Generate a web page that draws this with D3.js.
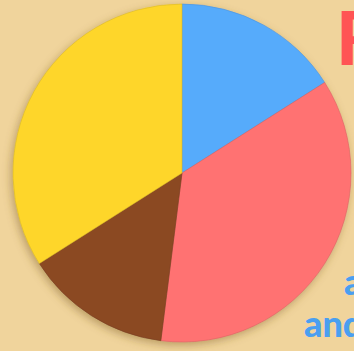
<!DOCTYPE html>
<html>
<head>
<meta charset="utf-8">
<script src="https://cdn.jsdelivr.net/npm/d3@7"></script>
<style>
  html, body { margin: 0; padding: 0; background: #F0D49C; overflow: hidden; }
  svg { display: block; }
</style>
</head>
<body>
<svg id="chart" width="354" height="351"></svg>
<script>
const categories = ["Blue", "Red", "Brown", "Yellow"];
const values = [16, 36, 14, 34];
const colors = ["#56ABFB", "#FF7272", "#8B4824", "#FED62B"];

const width = 354, height = 351;
const cx = 182, cy = 173, radius = 169;

const svg = d3.select("#chart");
svg.append("rect").attr("width", width).attr("height", height).attr("fill", "#F0D49C");

const defs = svg.append("defs");
const f = defs.append("filter").attr("id", "shadow")
  .attr("x", "-20%").attr("y", "-20%").attr("width", "140%").attr("height", "140%");
f.append("feDropShadow").attr("dx", -2).attr("dy", 3).attr("stdDeviation", 4)
  .attr("flood-color", "#7a5a20").attr("flood-opacity", 0.45);

const data = categories.map((c, i) => ({ cat: c, value: values[i], color: colors[i] }));
const pie = d3.pie().sort(null).value(d => d.value).startAngle(0).endAngle(2 * Math.PI);
const arc = d3.arc().innerRadius(0).outerRadius(radius);

const g = svg.append("g").attr("transform", `translate(${cx},${cy})`).attr("filter", "url(#shadow)");
g.selectAll("path").data(pie(data)).join("path")
  .attr("d", arc)
  .attr("fill", d => d.data.color)
  .attr("stroke", d => d3.color(d.data.color).darker(0.4))
  .attr("stroke-width", 0.6);

svg.append("text").attr("x", 336).attr("y", 65)
  .attr("font-family", "Lato, 'Open Sans', sans-serif").attr("font-weight", 900)
  .attr("font-size", 74).attr("fill", "#FF5454").text("R");

svg.append("text").attr("x", 344).attr("y", 295)
  .attr("font-family", "Lato, 'Open Sans', sans-serif").attr("font-weight", 900)
  .attr("font-size", 36).attr("fill", "#4A9FF0").text("a");

svg.append("text").attr("x", 304).attr("y", 337)
  .attr("font-family", "Lato, 'Open Sans', sans-serif").attr("font-weight", 900)
  .attr("font-size", 36).attr("fill", "#4A9FF0").text("and");
</script>
</body>
</html>
